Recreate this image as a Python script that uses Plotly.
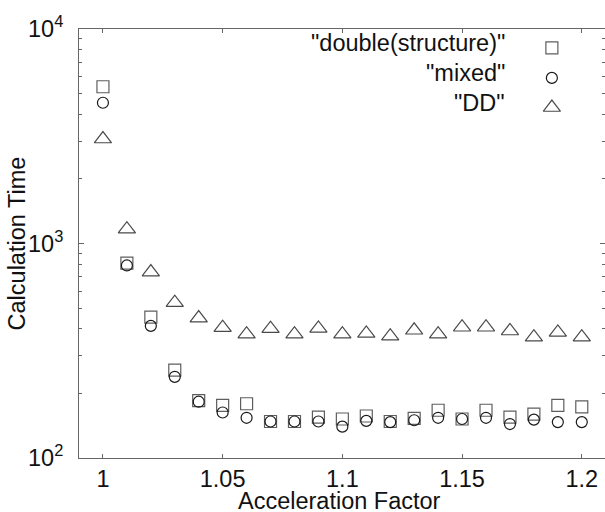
import plotly.graph_objects as go

# Acceleration factor sweep
accel_factor = [1.00, 1.01, 1.02, 1.03, 1.04, 1.05, 1.06, 1.07, 1.08, 1.09, 1.10,
                1.11, 1.12, 1.13, 1.14, 1.15, 1.16, 1.17, 1.18, 1.19, 1.20]

# Calculation time per method
time_double_structure = [5380, 810, 454, 257, 185, 176, 179, 148, 148, 155, 152,
                         157, 148, 153, 167, 152, 167, 155, 160, 176, 173]
time_mixed = [4530, 790, 413, 239, 183, 163, 154, 148, 148, 148, 140,
              149, 147, 150, 154, 152, 154, 144, 151, 147, 147]
time_dd = [3070, 1167, 736, 530, 449, 405, 378, 401, 378, 402, 378,
           381, 370, 394, 378, 407, 407, 391, 366, 385, 366]

series_names = ['"double(structure)"', '"mixed"', '"DD"']

x_tick_vals = [1.0, 1.05, 1.1, 1.15, 1.2]
x_tick_text = ["1", "1.05", "1.1", "1.15", "1.2"]
y_tick_vals = [100, 1000, 10000]
y_tick_text = ["10<sup>2</sup>", "10<sup>3</sup>", "10<sup>4</sup>"]
y_minor_vals = [m * d for d in (100, 1000) for m in range(2, 10)]

x_title = "Acceleration Factor"
y_title = "Calculation Time"

FONT = "Liberation Sans, Arial, sans-serif"
FS = 23.5
AXIS = "#666666"
TEXT = "#111111"

styles = [
    dict(symbol="square-open", size=12, color="#5e5e5e"),
    dict(symbol="circle-open", size=11, color="#1a1a1a"),
    dict(symbol="triangle-up-open", size=15, color="#4a4a4a"),
]
series = [time_double_structure, time_mixed, time_dd]

fig = go.Figure()
for name, ys, st in zip(series_names, series, styles):
    fig.add_trace(go.Scatter(
        x=accel_factor, y=ys, mode="markers", name=name, showlegend=False,
        marker=dict(symbol=st["symbol"], size=st["size"], color=st["color"],
                    line=dict(width=1.2, color=st["color"])),
    ))

# Key: right-aligned text followed by the symbol, top-right of the plot
key_text_x = 0.814
key_mark_x = 0.899
key_rows = [0.956, 0.886, 0.817]
for name, st, ry in zip(series_names, styles, key_rows):
    fig.add_trace(go.Scatter(
        x=[key_mark_x], y=[ry], xaxis="x2", yaxis="y2", mode="markers",
        showlegend=False, hoverinfo="skip",
        marker=dict(symbol=st["symbol"], size=st["size"], color=st["color"],
                    line=dict(width=1.2, color=st["color"])),
    ))
    fig.add_annotation(
        x=key_text_x, y=ry, xref="x2", yref="y2", text=name, showarrow=False,
        xanchor="right", yanchor="middle", yshift=5,
        font=dict(family=FONT, size=FS, color=TEXT),
    )

# Axis titles
fig.add_annotation(
    x=0.5, y=0.0, xref="paper", yref="paper", text=x_title, showarrow=False,
    xanchor="center", yanchor="bottom", xshift=-3, yshift=-58,
    font=dict(family=FONT, size=FS, color=TEXT),
)
fig.add_annotation(
    x=-0.118, y=0.5, xref="paper", yref="paper", text=y_title, showarrow=False,
    xanchor="center", yanchor="middle", textangle=-90,
    font=dict(family=FONT, size=FS, color=TEXT),
)

fig.update_layout(
    width=605, height=512,
    margin=dict(l=79, r=0, t=29, b=54),
    paper_bgcolor="white", plot_bgcolor="white",
    font=dict(family=FONT, size=FS, color=TEXT),
    xaxis=dict(
        range=[0.99, 1.2097], tickvals=x_tick_vals, ticktext=x_tick_text,
        ticks="inside", ticklen=4, tickwidth=1, tickcolor=AXIS,
        showline=True, linecolor=AXIS, linewidth=1, mirror="ticks",
        showgrid=False, zeroline=False, automargin=False,
        tickfont=dict(family=FONT, size=FS, color=TEXT),
    ),
    yaxis=dict(
        type="log", range=[2, 4], tickvals=y_tick_vals, ticktext=y_tick_text,
        ticks="inside", ticklen=5, tickwidth=1, tickcolor=AXIS,
        showline=True, linecolor=AXIS, linewidth=1, mirror="ticks",
        showgrid=False, zeroline=False, ticklabelstandoff=10, automargin=False,
        minor=dict(tickmode="array", tickvals=y_minor_vals, ticks="inside",
                   ticklen=3, tickwidth=1, tickcolor=AXIS, showgrid=False),
        tickfont=dict(family=FONT, size=FS, color=TEXT),
    ),
    xaxis2=dict(range=[0, 1], overlaying="x", visible=False, fixedrange=True),
    yaxis2=dict(range=[0, 1], overlaying="y", visible=False, fixedrange=True),
)

fig.write_html("out.html")
